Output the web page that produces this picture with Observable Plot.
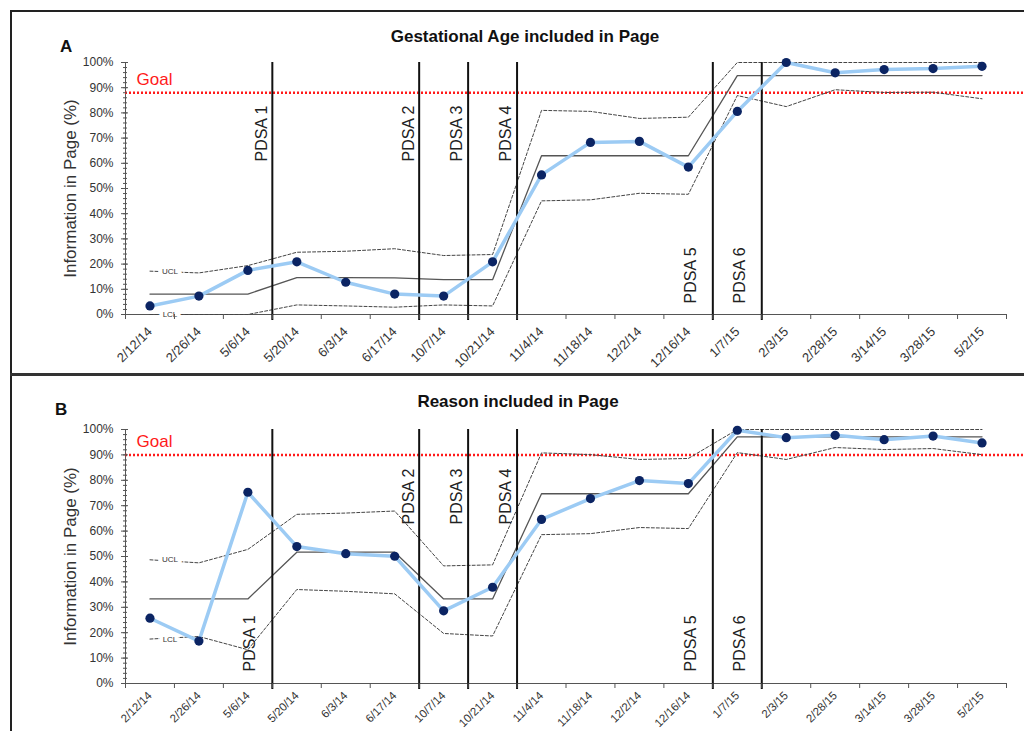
<!DOCTYPE html>
<html>
<head>
<meta charset="utf-8">
<script src="https://cdn.jsdelivr.net/npm/d3@7"></script>
<script src="https://cdn.jsdelivr.net/npm/@observablehq/plot@0.6"></script>
<style>
  html, body { margin: 0; padding: 0; background: #fff; }
  body { font-family: "Liberation Sans", Arial, sans-serif; }
  #wrap { position: relative; width: 1024px; height: 731px; overflow: hidden; background: #fff; }
  .line { position: absolute; background: #222; }
  .title { position: absolute; width: 400px; text-align: center; font-weight: bold; font-size: 17px; line-height: 1; color: #111; }
  .letter { position: absolute; font-weight: bold; font-size: 17px; line-height: 1; color: #111; }
  svg.panel { position: absolute; left: 0; }
</style>
</head>
<body>
<div id="wrap">
  <div class="line" style="left:10px;top:10px;width:1014px;height:1.5px;"></div>
  <div class="line" style="left:10px;top:10px;width:1.5px;height:721px;"></div>
  <div class="line" style="left:10px;top:373px;width:1014px;height:3px;background:#333;"></div>
  <div class="letter" style="left:60px;top:38px;">A</div>
  <div class="title" style="left:325px;top:28px;">Gestational Age included in Page</div>
  <div class="letter" style="left:55px;top:401px;">B</div>
  <div class="title" style="left:318px;top:393px;">Reason included in Page</div>
</div>
<script>
// ---- data ----
const dates = ["2/12/14","2/26/14","5/6/14","5/20/14","6/3/14","6/17/14","10/7/14","10/21/14",
  "11/4/14","11/18/14","12/2/14","12/16/14","1/7/15","2/3/15","2/28/15","3/14/15","3/28/15","5/2/15"];
const yTicks = [0,10,20,30,40,50,60,70,80,90,100];
const pdsaNames = ["PDSA 1","PDSA 2","PDSA 3","PDSA 4","PDSA 5","PDSA 6"];
// each PDSA line sits just before this category
const pdsaBefore = ["5/20/14","10/7/14","10/21/14","11/4/14","1/7/15","2/3/15"];

// Panel A: Gestational Age included in Page
const gestValue = [3.4, 7.3, 17.5, 20.9, 12.8, 8.1, 7.3, 20.9, 55.4, 68.3, 68.7, 58.5, 80.6, 100, 95.9, 97.2, 97.6, 98.5];
const gestCL    = [8.1, 8.1, 8.1, 14.6, 14.6, 14.5, 13.8, 13.8, 63.0, 63.0, 63.0, 63.0, 94.8, 94.8, 94.8, 94.8, 94.8, 94.8];
const gestUCL   = [17.2, 16.5, 19.4, 24.7, 25.1, 26.1, 23.4, 23.8, 81.0, 80.6, 77.8, 78.3, 100, 100, 100, 100, 100, 100];
const gestLCL   = [0, 0, 0, 3.8, 3.4, 2.9, 3.8, 3.4, 45.1, 45.5, 48.1, 47.7, 86.9, 82.5, 89.2, 88.1, 88.2, 85.6];
const gestGoal  = 88;

// Panel B: Reason included in Page
const reasonValue = [25.7, 16.7, 75.3, 53.9, 51.1, 50.1, 28.6, 37.9, 64.6, 72.8, 79.9, 78.7, 99.7, 96.8, 97.7, 96.0, 97.4, 94.7];
const reasonCL    = [33.3, 33.3, 33.3, 51.7, 51.7, 51.7, 33.3, 33.3, 74.7, 74.7, 74.7, 74.7, 97.1, 97.1, 97.1, 97.1, 97.1, 97.1];
const reasonUCL   = [48.7, 47.5, 52.8, 66.6, 67.1, 67.9, 46.3, 46.7, 90.8, 90.1, 88.2, 88.6, 100, 100, 100, 100, 100, 100];
const reasonLCL   = [17.5, 18.5, 13.3, 37.0, 36.3, 35.3, 19.7, 18.7, 58.6, 59.0, 61.4, 61.0, 90.9, 88.2, 92.9, 92.1, 92.5, 90.1];
const reasonGoal  = 90;

// ---- drawing ----
function panel(cfg) {
  const n = dates.length;
  const rows = dates.map((d, i) => ({date: d, x: i + 0.5, v: cfg.value[i], cl: cfg.cl[i], ucl: cfg.ucl[i], lcl: cfg.lcl[i]}));
  const pd = pdsaNames.map((name, k) => ({name, x: dates.indexOf(pdsaBefore[k]), top: cfg.topSet.includes(k)}));
  const axisColor = "#555";
  const svg = Plot.plot({
    width: 1024,
    height: cfg.height,
    marginLeft: 125, marginRight: 18, marginTop: cfg.mt, marginBottom: cfg.mb,
    x: {type: "linear", domain: [0, n]},
    y: {domain: [0, 100]},
    style: {fontFamily: "'Liberation Sans', Arial, sans-serif", background: "transparent", overflow: "visible"},
    marks: [
      // axis lines
      Plot.ruleX([0], {stroke: axisColor, strokeWidth: 1}),
      Plot.ruleY([0], {stroke: axisColor, strokeWidth: 1}),
      // goal
      Plot.ruleY([cfg.goal], {stroke: "#ff1a1a", strokeWidth: 2.5, strokeDasharray: "2,2", insetRight: -20}),
      // control limits
      Plot.line(rows, {x: "x", y: "cl", stroke: "#555", strokeWidth: 1.3}),
      Plot.line(rows, {x: "x", y: "ucl", stroke: "#444", strokeWidth: 1, strokeDasharray: "3,2"}),
      Plot.line(rows, {x: "x", y: "lcl", stroke: "#444", strokeWidth: 1, strokeDasharray: "3,2"}),
      Plot.text([rows[0]], {x: "x", y: "ucl", text: () => "UCL", dx: 20, fontSize: 8, fill: "#333", stroke: "white", strokeWidth: 8, paintOrder: "stroke"}),
      Plot.text([rows[0]], {x: "x", y: "lcl", text: () => "LCL", dx: 20, fontSize: 8, fill: "#333", stroke: "white", strokeWidth: 8, paintOrder: "stroke"}),
      // PDSA lines
      Plot.ruleX(pd, {x: "x", stroke: "#111", strokeWidth: 2, insetBottom: -6}),
      // data
      Plot.line(rows, {x: "x", y: "v", stroke: "#9ccbf4", strokeWidth: 3.5}),
      Plot.dot(rows, {x: "x", y: "v", r: 4.6, fill: "#0b2463", stroke: "none"}),
      // y axis ticks (major & minor, crossing)
      Plot.axisY(d3.range(0, 101, 2), {tickSize: 4, dx: 2, tickFormat: () => "", stroke: axisColor, label: null}),
      Plot.axisY(yTicks, {tickSize: 7, dx: 3, tickFormat: () => "", stroke: axisColor, label: null}),
      Plot.axisY(yTicks, {tickSize: 0, tickPadding: 12, tickFormat: d => d + "%", fontSize: 12, fill: "#333", label: null}),
      // x axis ticks and labels
      Plot.axisX(d3.range(0, n + 1), {tickSize: 5, tickFormat: () => "", stroke: axisColor, label: null}),
      Plot.text(rows, {x: "x", y: 0, text: "date", rotate: -45, textAnchor: "end", dx: 0, dy: cfg.labDy, fontSize: cfg.labSize, fill: "#333"}),
      // goal label
      Plot.text([cfg.goal], {x: 0, y: d => d, text: () => "Goal", textAnchor: "start", lineAnchor: "bottom", dx: 11, dy: -8, fontSize: 17, fill: "#ff1a1a"}),
      // y axis title
      Plot.text(["Information in Page (%)"], {frameAnchor: "left", text: d => d, rotate: -90, textAnchor: "middle", dx: -55, fontSize: 17, fill: "#333"}),
      // PDSA labels
      Plot.text(pd.filter(d => d.top), {x: "x", frameAnchor: "top", text: "name", rotate: -90, textAnchor: "end", dx: -17, dy: cfg.topDy, fontSize: 16, fill: "#222"}),
      Plot.text(pd.filter(d => !d.top), {x: "x", frameAnchor: "bottom", text: "name", rotate: -90, textAnchor: "start", dx: -17, dy: cfg.botDy, fontSize: 16, fill: "#222"})
    ]
  });
  svg.classList.add("panel");
  svg.style.top = cfg.top + "px";
  return svg;
}

const wrap = document.getElementById("wrap");
wrap.appendChild(panel({
  value: gestValue, cl: gestCL, ucl: gestUCL, lcl: gestLCL, goal: gestGoal,
  top: 0, height: 365, mt: 62, mb: 51, topSet: [0, 1, 2, 3], topDy: 43, botDy: -11, labDy: 15, labSize: 13
}));
wrap.appendChild(panel({
  value: reasonValue, cl: reasonCL, ucl: reasonUCL, lcl: reasonLCL, goal: reasonGoal,
  top: 366, height: 365, mt: 63, mb: 48, topSet: [1, 2, 3], topDy: 39, botDy: -12, labDy: 10, labSize: 11.5
}));
</script>
</body>
</html>
